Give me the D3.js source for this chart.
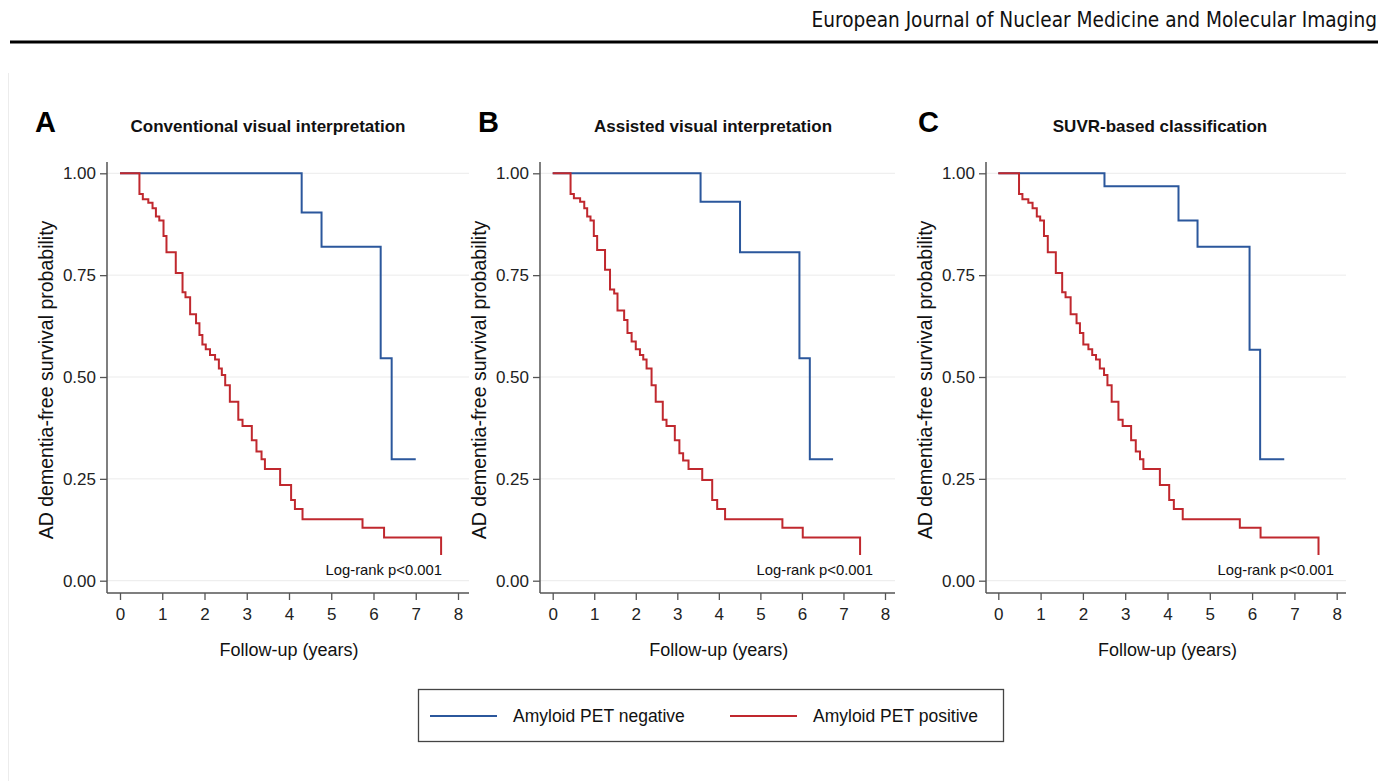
<!DOCTYPE html>
<html>
<head>
<meta charset="utf-8">
<title>AD dementia-free survival</title>
<style>
body { margin: 0; background: #fff; }
svg text { font-family: 'Liberation Sans', Arial, Helvetica, sans-serif; }
.journal { font-family: 'DejaVu Sans Condensed', 'DejaVu Sans', sans-serif; font-stretch: condensed; }
</style>
</head>
<body>
<script src="https://d3js.org/d3.v7.min.js"></script>
<script>

// ---- data: [follow-up years, survival probability] ----
const xTicks = [0, 1, 2, 3, 4, 5, 6, 7, 8];
const yTicks = [0, 0.25, 0.5, 0.75, 1];
const yTickLabels = ["0.00", "0.25", "0.50", "0.75", "1.00"];

const panelLetters = ["A", "B", "C"];
const panelTitles = ["Conventional visual interpretation", "Assisted visual interpretation", "SUVR-based classification"];
const seriesNames = ["Amyloid PET negative", "Amyloid PET positive"];
const pText = "Log-rank p<0.001";

const negA = [[0, 1], [4.30, 0.904], [4.77, 0.820], [6.17, 0.546], [6.43, 0.298], [7.00, 0.298]];
const posA = [[0, 1], [0.46, 0.949], [0.54, 0.936], [0.67, 0.928], [0.77, 0.914], [0.85, 0.894],
  [0.93, 0.884], [1.03, 0.846], [1.10, 0.806], [1.32, 0.755], [1.48, 0.708], [1.55, 0.696],
  [1.66, 0.654], [1.80, 0.632], [1.88, 0.603], [1.95, 0.580], [2.03, 0.568], [2.13, 0.554],
  [2.25, 0.543], [2.34, 0.521], [2.41, 0.505], [2.49, 0.480], [2.60, 0.439], [2.80, 0.395],
  [2.90, 0.380], [3.12, 0.345], [3.23, 0.317], [3.35, 0.298], [3.43, 0.274], [3.79, 0.235],
  [4.05, 0.198], [4.14, 0.176], [4.32, 0.151], [5.74, 0.130], [6.25, 0.106], [7.60, 0.063]];

const negB = [[0, 1], [3.56, 0.930], [4.51, 0.806], [5.94, 0.546], [6.19, 0.298], [6.75, 0.298]];
const posB = [[0, 1], [0.43, 0.949], [0.51, 0.939], [0.66, 0.930], [0.76, 0.914], [0.83, 0.894],
  [0.91, 0.884], [0.99, 0.846], [1.07, 0.812], [1.26, 0.763], [1.38, 0.715], [1.48, 0.705],
  [1.56, 0.663], [1.72, 0.640], [1.80, 0.608], [1.90, 0.587], [2.00, 0.568], [2.10, 0.554],
  [2.18, 0.543], [2.26, 0.521], [2.38, 0.480], [2.48, 0.439], [2.65, 0.395], [2.74, 0.380],
  [2.94, 0.345], [3.05, 0.313], [3.14, 0.295], [3.27, 0.274], [3.60, 0.247], [3.84, 0.198],
  [3.96, 0.176], [4.15, 0.151], [5.53, 0.130], [6.02, 0.106], [7.40, 0.063]];

const negC = [[0, 1], [2.51, 0.968], [4.26, 0.884], [4.71, 0.820], [5.94, 0.567], [6.19, 0.298], [6.76, 0.298]];
const posC = [[0, 1], [0.49, 0.949], [0.57, 0.936], [0.71, 0.928], [0.81, 0.914], [0.91, 0.894],
  [0.99, 0.884], [1.08, 0.846], [1.17, 0.806], [1.36, 0.755], [1.51, 0.708], [1.59, 0.696],
  [1.71, 0.654], [1.85, 0.632], [1.93, 0.608], [2.01, 0.580], [2.13, 0.568], [2.22, 0.554],
  [2.31, 0.543], [2.40, 0.521], [2.50, 0.505], [2.58, 0.480], [2.68, 0.439], [2.84, 0.395],
  [2.94, 0.380], [3.14, 0.345], [3.25, 0.317], [3.35, 0.298], [3.43, 0.274], [3.82, 0.235],
  [4.04, 0.198], [4.15, 0.176], [4.36, 0.151], [5.71, 0.130], [6.20, 0.106], [7.57, 0.063]];

const negative = [negA, negB, negC];
const positive = [posA, posB, posC];

// ---- layout ----
const W = 1388, H = 781;
const blue = "#2b579c", red = "#c0282e";
const axisColor = "#555";

// per panel: y-axis line x, x=0 pixel, x=8 pixel, x-axis end
const frames = [
  {axisX: 107, x0: 120, x8: 458, right: 469, letterX: 35, titleX: 268, pRight: 442},
  {axisX: 540, x0: 552.7, x8: 885, right: 895, letterX: 478, titleX: 713, pRight: 873},
  {axisX: 986, x0: 998.3, x8: 1336.7, right: 1346, letterX: 918, titleX: 1160, pRight: 1334}
];
const yPix0 = 580.7, yPix1 = 173.3, axisTop = 162, axisBottom = 593;

const svg = d3.select("body").append("svg")
    .attr("width", W)
    .attr("height", H);

// journal header
svg.append("text")
    .attr("class", "journal")
    .attr("x", 1377)
    .attr("y", 27)
    .attr("text-anchor", "end")
    .attr("font-size", "20.6px")
    .attr("fill", "#111")
    .text("European Journal of Nuclear Medicine and Molecular Imaging");

svg.append("rect")
    .attr("x", 10).attr("y", 40.5)
    .attr("width", 1368).attr("height", 3)
    .attr("fill", "#000");

// faint edge of the figure
svg.append("line")
    .attr("x1", 8.5).attr("x2", 8.5)
    .attr("y1", 73).attr("y2", H)
    .attr("stroke", "#ececec");

const y = d3.scaleLinear().domain([0, 1]).range([yPix0, yPix1]);

frames.forEach(function(f, i) {
  const x = d3.scaleLinear().domain([0, 8]).range([f.x0, f.x8]);
  const g = svg.append("g");

  // letter + title
  g.append("text")
      .attr("x", f.letterX)
      .attr("y", 132)
      .attr("font-size", "29px")
      .attr("font-weight", "bold")
      .attr("fill", "#000")
      .text(panelLetters[i]);

  g.append("text")
      .attr("x", f.titleX)
      .attr("y", 131.5)
      .attr("text-anchor", "middle")
      .attr("font-size", "17px")
      .attr("font-weight", "bold")
      .attr("fill", "#111")
      .text(panelTitles[i]);

  // gridlines
  g.selectAll(".grid")
      .data(yTicks)
    .enter().append("line")
      .attr("x1", f.axisX)
      .attr("x2", f.right)
      .attr("y1", function(d) { return y(d); })
      .attr("y2", function(d) { return y(d); })
      .attr("stroke", "#ebebeb")
      .attr("stroke-width", 1);

  // y axis
  const ya = g.append("g")
      .attr("transform", "translate(" + f.axisX + ",0)")
      .call(d3.axisLeft(y)
        .tickValues(yTicks)
        .tickFormat(function(d, k) { return yTickLabels[k]; })
        .tickSize(7)
        .tickPadding(4));
  ya.select(".domain").remove();

  // x axis
  const xa = g.append("g")
      .attr("transform", "translate(0," + axisBottom + ")")
      .call(d3.axisBottom(x)
        .tickValues(xTicks)
        .tickFormat(d3.format("d"))
        .tickSize(7)
        .tickPadding(8));
  xa.select(".domain").remove();

  [ya, xa].forEach(function(a) {
    a.selectAll("line").attr("stroke", axisColor).attr("stroke-width", 1.3);
    a.selectAll("text")
        .attr("font-size", "17px")
        .attr("fill", "#222")
        .style("font-family", "'Liberation Sans', Arial, sans-serif");
  });

  g.append("line")
      .attr("x1", f.axisX).attr("x2", f.axisX)
      .attr("y1", axisTop).attr("y2", axisBottom)
      .attr("stroke", axisColor).attr("stroke-width", 1.5);
  g.append("line")
      .attr("x1", f.axisX).attr("x2", f.right)
      .attr("y1", axisBottom).attr("y2", axisBottom)
      .attr("stroke", axisColor).attr("stroke-width", 1.5);

  // axis titles
  g.append("text")
      .attr("x", (f.x0 + f.x8) / 2)
      .attr("y", 656)
      .attr("text-anchor", "middle")
      .attr("font-size", "18px")
      .attr("fill", "#111")
      .text("Follow-up (years)");

  g.append("text")
      .attr("transform", "translate(" + (f.axisX - 54) + "," + (y(0.5) + 3) + ") rotate(-90)")
      .attr("text-anchor", "middle")
      .attr("font-size", "19.5px")
      .attr("fill", "#111")
      .text("AD dementia-free survival probability");

  // KM step curves
  const line = d3.line()
      .x(function(d) { return x(d[0]); })
      .y(function(d) { return y(d[1]); })
      .curve(d3.curveStepAfter);

  g.append("path")
      .datum(negative[i])
      .attr("d", line)
      .attr("fill", "none")
      .attr("stroke", blue)
      .attr("stroke-width", 2);

  g.append("path")
      .datum(positive[i])
      .attr("d", line)
      .attr("fill", "none")
      .attr("stroke", red)
      .attr("stroke-width", 2);

  g.append("text")
      .attr("x", f.pRight)
      .attr("y", 575)
      .attr("text-anchor", "end")
      .attr("font-size", "14.8px")
      .attr("fill", "#111")
      .text(pText);
});

// legend
const legend = svg.append("g");
legend.append("rect")
    .attr("x", 418.5).attr("y", 689.5)
    .attr("width", 585).attr("height", 52)
    .attr("fill", "#fff")
    .attr("stroke", "#444")
    .attr("stroke-width", 1.3);

const legendX = [430, 730];
const legendColors = [blue, red];
seriesNames.forEach(function(name, k) {
  legend.append("line")
      .attr("x1", legendX[k]).attr("x2", legendX[k] + 67)
      .attr("y1", 716).attr("y2", 716)
      .attr("stroke", legendColors[k])
      .attr("stroke-width", 2);
  legend.append("text")
      .attr("x", legendX[k] + 83)
      .attr("y", 722)
      .attr("font-size", "17.5px")
      .attr("fill", "#111")
      .text(name);
});

</script>
</body>
</html>
